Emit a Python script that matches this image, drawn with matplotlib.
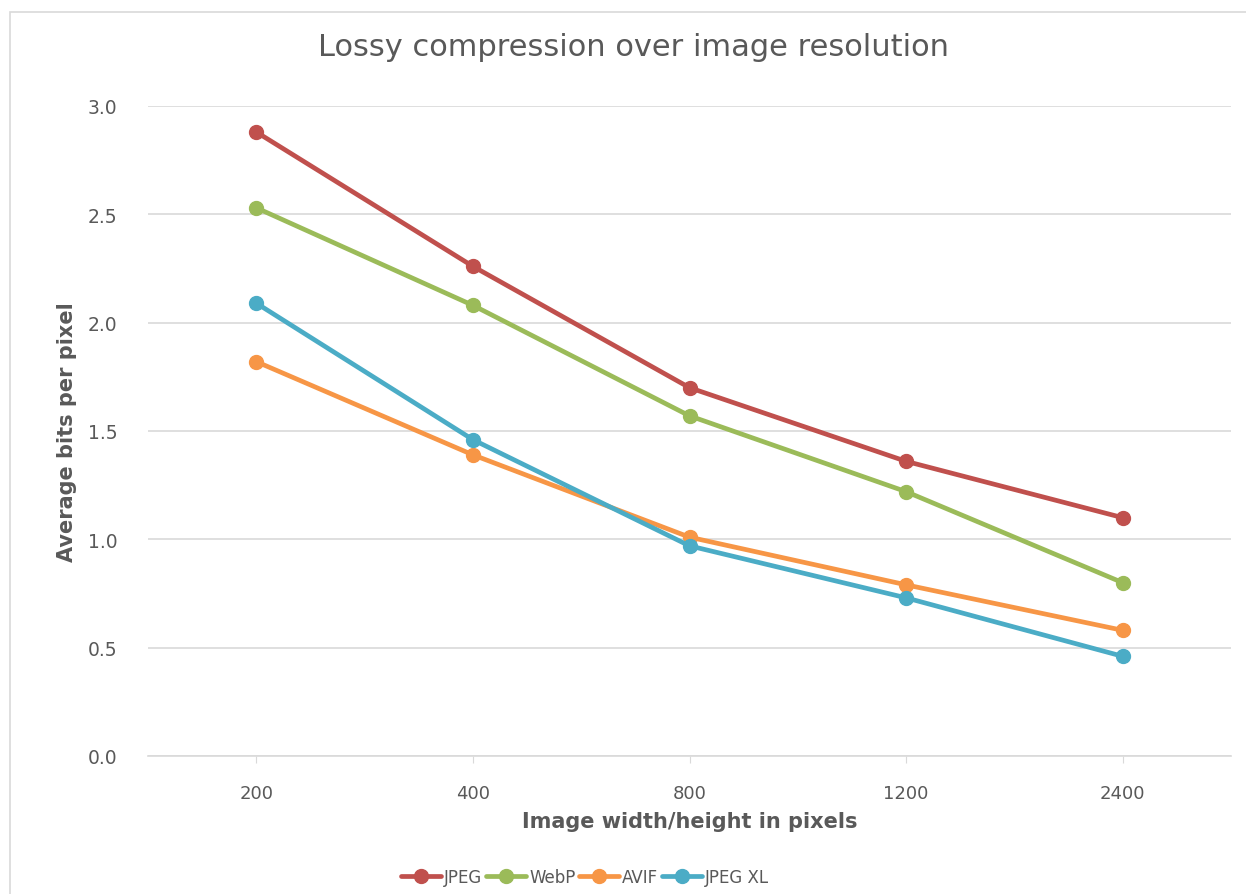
import matplotlib
matplotlib.use("Agg")
import matplotlib.pyplot as plt
from matplotlib.patches import Rectangle

# Data: average bits per pixel at each image size
resolutions = ["200", "400", "800", "1200", "2400"]
jpeg = [2.88, 2.26, 1.70, 1.36, 1.10]
webp = [2.53, 2.08, 1.57, 1.22, 0.80]
avif = [1.82, 1.39, 1.01, 0.79, 0.58]
jpegxl = [2.09, 1.46, 0.97, 0.73, 0.46]

series_names = ["JPEG", "WebP", "AVIF", "JPEG XL"]
series_colors = ["#C0504D", "#9BBB59", "#F79646", "#4BACC6"]
y_ticks = [0.0, 0.5, 1.0, 1.5, 2.0, 2.5, 3.0]

text_color = "#595959"
plt.rcParams["font.family"] = ["DejaVu Sans"]

fig = plt.figure(figsize=(12.46, 8.95), dpi=100)
fig.patch.set_facecolor("white")

# chart frame
fig.patches.append(Rectangle((10 / 1246, -0.01), 1.05, 1 - 13 / 895 + 0.01,
                             transform=fig.transFigure, fill=False,
                             edgecolor="#D9D9D9", linewidth=1.2))

ax = fig.add_axes([148 / 1246, 1 - 757 / 895, (1231 - 148) / 1246, (757 - 107) / 895])
x = list(range(len(resolutions)))
for vals, name, col in zip([jpeg, webp, avif, jpegxl], series_names, series_colors):
    ax.plot(x, vals, color=col, linewidth=3.4, marker="o", markersize=10,
            label=name, solid_capstyle="round", zorder=3)

ax.set_xlim(-0.5, len(resolutions) - 0.5)
ax.set_ylim(0, 3.0)
ax.set_yticks(y_ticks)
ax.set_yticklabels([f"{v:.1f}" for v in y_ticks])
ax.set_xticks(x)
ax.set_xticklabels(resolutions)
ax.grid(axis="y", color="#D9D9D9", linewidth=1.2)
ax.set_axisbelow(True)
for s in ["top", "right", "left"]:
    ax.spines[s].set_visible(False)
ax.spines["bottom"].set_color("#D9D9D9")
ax.spines["bottom"].set_linewidth(1.2)
ax.tick_params(axis="y", length=0, pad=22, labelsize=13.5, labelcolor=text_color)
ax.tick_params(axis="x", length=5, color="#D9D9D9", pad=15, labelsize=13,
               labelcolor=text_color)

ax.set_ylabel("Average bits per pixel", fontsize=15, fontweight="bold",
              color=text_color, labelpad=8)
ax.set_xlabel("Image width/height in pixels", fontsize=15, fontweight="bold",
              color=text_color, labelpad=7)

fig.text(634 / 1246, 1 - 48 / 895, "Lossy compression over image resolution",
         ha="center", va="center", fontsize=22, color=text_color)

fig.legend(loc="center", bbox_to_anchor=(585 / 1246, 1 - 878 / 895), ncol=4,
           frameon=False, fontsize=12, handlelength=2.4, handletextpad=0.2,
           columnspacing=0.2, labelcolor=text_color)

fig.savefig("out.png", dpi=100, facecolor="white")
